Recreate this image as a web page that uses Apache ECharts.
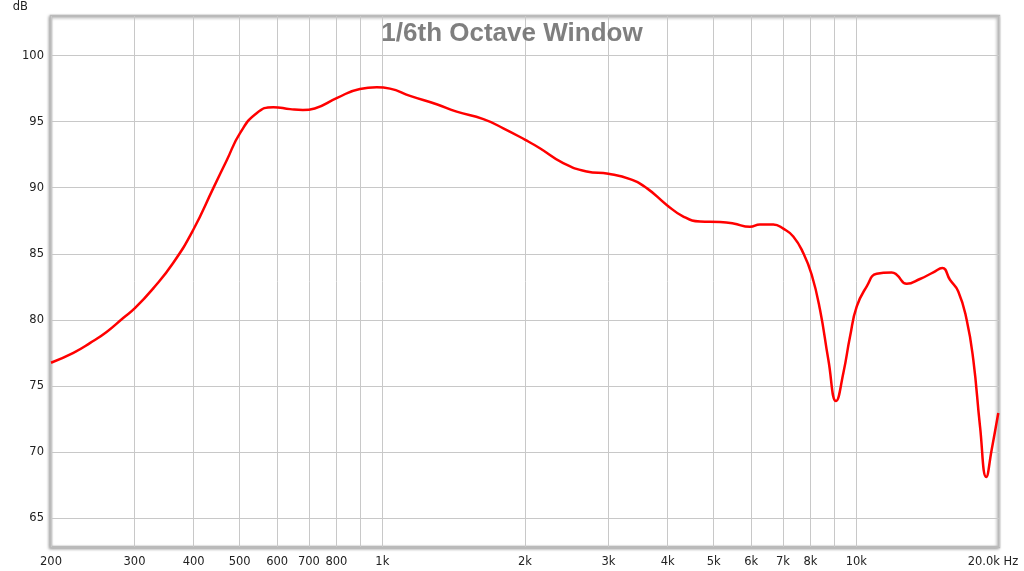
<!DOCTYPE html>
<html>
<head>
<meta charset="utf-8">
<script src="https://cdn.jsdelivr.net/npm/echarts@6/dist/echarts.min.js"></script>
<style>
html,body{margin:0;padding:0;background:#fff;}
#chart{width:1024px;height:571px;}
</style>
</head>
<body>
<div id="chart"></div>
<script>
var frequencies = [200, 223, 242, 262, 284, 301, 329, 362, 399, 440, 470, 501, 543, 589, 639, 680, 720, 801, 897, 973, 1038, 1144, 1302, 1435, 1634, 1800, 2003, 2150, 2408, 2700, 2998, 3332, 3613, 3981, 4316, 4680, 5158, 5504, 5966, 6262, 6682, 7015, 7362, 7730, 8052, 8384, 8730, 9064, 9390, 9702, 10022, 10520, 11040, 11874, 12168, 12774, 13624, 14536, 15186, 15760, 16410, 17092, 17652, 18238, 18800, 19300, 19932];
var dbValues = [76.75, 77.5, 78.25, 79.08, 80.14, 80.9, 82.4, 84.3, 86.8, 89.97, 92.1, 94.13, 95.64, 96.1, 95.95, 95.88, 96.0, 96.78, 97.48, 97.6, 97.5, 96.95, 96.32, 95.76, 95.19, 94.5, 93.62, 92.99, 91.86, 91.23, 91.05, 90.65, 89.97, 88.7, 87.82, 87.44, 87.4, 87.29, 87.04, 87.22, 87.22, 86.9, 86.31, 85.05, 83.41, 80.76, 76.98, 73.85, 75.98, 78.75, 81.01, 82.53, 83.49, 83.59, 83.41, 82.73, 83.09, 83.59, 83.92, 83.03, 82.15, 80.0, 76.98, 71.94, 68.1, 70.17, 72.95];
var xGridValues = [200, 300, 400, 500, 600, 700, 800, 900, 1000, 2000, 3000, 4000, 5000, 6000, 7000, 8000, 9000, 10000, 20000];
var xLabelValues = [200, 300, 400, 500, 600, 700, 800, 1000, 2000, 3000, 4000, 5000, 6000, 7000, 8000, 10000, 20000];
var yTickValues = [65, 70, 75, 80, 85, 90, 95, 100];

var points = frequencies.map(function (f, i) { return [f, dbValues[i]]; });

var labelFont = {fontFamily: 'DejaVu Sans', fontSize: 11.5, color: '#222'};

var chart = echarts.init(document.getElementById('chart'), null, {renderer: 'canvas'});
chart.setOption({
  animation: false,
  backgroundColor: '#ffffff',
  title: {
    text: '1/6th Octave Window',
    left: 'center',
    top: 16,
    z: 10,
    textStyle: {
      fontFamily: 'Liberation Sans',
      fontSize: 26,
      fontWeight: 'bold',
      color: 'rgba(105,105,105,0.85)'
    }
  },
  grid: {
    left: 51, right: 25, top: 16, bottom: 24,
    outerBoundsMode: 'none',
    containLabel: false,
    show: true,
    backgroundColor: '#ffffff',
    borderColor: '#bababa',
    borderWidth: 2.5,
    shadowColor: 'rgba(0,0,0,0.3)',
    shadowBlur: 3,
    shadowOffsetX: -1,
    shadowOffsetY: 1
  },
  xAxis: {
    type: 'log',
    logBase: 10,
    min: 200,
    max: 20000,
    axisLine: {show: false},
    axisTick: {show: false, customValues: xGridValues},
    splitLine: {show: true, lineStyle: {color: '#c8c8c8', width: 1}},
    minorSplitLine: {show: false},
    axisLabel: Object.assign({
      customValues: xLabelValues,
      margin: 9,
      formatter: function (v) {
        if (v >= 20000) return '20.0k Hz{s|}';
        if (v >= 1000) return (v / 1000) + 'k';
        return String(v);
      },
      rich: {s: {width: 12}}
    }, labelFont)
  },
  yAxis: {
    type: 'value',
    min: 62.8,
    max: 103,
    name: 'dB',
    nameLocation: 'end',
    nameGap: 3,
    nameTextStyle: Object.assign({align: 'right', padding: [0, 23, 0, 0]}, labelFont),
    axisLine: {show: false},
    axisTick: {show: false, customValues: yTickValues},
    splitLine: {show: true, lineStyle: {color: '#c8c8c8', width: 1}},
    axisLabel: Object.assign({customValues: yTickValues, margin: 7}, labelFont)
  },
  series: [{
    type: 'line',
    data: points,
    smooth: 0.5,
    showSymbol: false,
    clip: true,
    lineStyle: {color: '#ff0000', width: 2.5},
    z: 5
  }]
});
</script>
</body>
</html>
